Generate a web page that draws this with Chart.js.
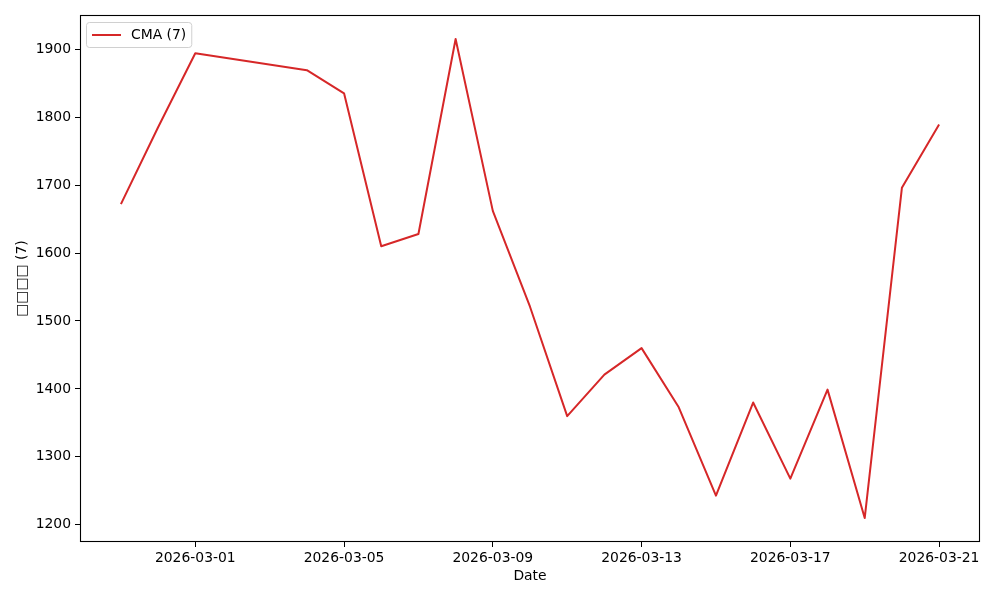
<!DOCTYPE html>
<html>
<head>
<meta charset="utf-8">
<script src="https://cdn.jsdelivr.net/npm/chart.js@4"></script>
<style>
html,body{margin:0;padding:0;background:#fff;}
#wrap{width:1000px;height:600px;}
</style>
</head>
<body>
<div id="wrap"><canvas id="c" width="1000" height="600"></canvas></div>
<script>
const dates = ["2026-02-27","2026-02-28","2026-03-01","2026-03-04","2026-03-05","2026-03-06","2026-03-07","2026-03-08","2026-03-09","2026-03-10","2026-03-11","2026-03-12","2026-03-13","2026-03-14","2026-03-15","2026-03-16","2026-03-17","2026-03-18","2026-03-19","2026-03-20","2026-03-21"];
const cmaValues = [1672,1785,1894,1869,1835,1610,1628,1915,1662,1521,1360,1421,1460,1373,1243,1380,1268,1399,1210,1696,1789];
const xTickLabels = ["2026-03-01","2026-03-05","2026-03-09","2026-03-13","2026-03-17","2026-03-21"];
const yTickValues = [1200,1300,1400,1500,1600,1700,1800,1900];
const seriesLabel = "CMA (7)";
const xTitle = "Date";
const yTitle = "□□□□ (7)";

const DAY = 86400000;
function dayNum(s){ const p = s.split('-').map(Number); return Date.UTC(p[0],p[1]-1,p[2]) / DAY; }
function dayStr(n){ const d = new Date(Math.round(n)*DAY); return d.toISOString().slice(0,10); }

const pts = dates.map((d,i)=>({x:dayNum(d), y:cmaValues[i]}));
const xs = pts.map(p=>p.x), ys = cmaValues;
const xMinD = Math.min(...xs), xMaxD = Math.max(...xs);
const yMinD = Math.min(...ys), yMaxD = Math.max(...ys);
const xm = (xMaxD-xMinD)*0.05, ym = (yMaxD-yMinD)*0.05;

const FONT = "'DejaVu Sans', sans-serif";
const FS = 13.9;

const framePlugin = {
  id:'frame',
  afterDraw(chart){
    const ctx = chart.ctx, a = chart.chartArea;
    ctx.save();
    ctx.strokeStyle = '#000';
    ctx.lineWidth = 1.1;
    ctx.strokeRect(Math.round(a.left)+0.5, Math.round(a.top)+0.5, Math.round(a.right-a.left)-1, Math.round(a.bottom-a.top)-1);
    // legend
    const ds = chart.data.datasets[0];
    const bx = Math.round(a.left)+6.5, by = Math.round(a.top)+7.5;
    ctx.font = FS + 'px ' + FONT;
    const tw = ctx.measureText(ds.label).width;
    const bw = 44 + tw + 6, bh = 25;
    ctx.beginPath();
    if (ctx.roundRect) ctx.roundRect(bx, by, bw, bh, 3); else ctx.rect(bx,by,bw,bh);
    ctx.fillStyle = 'rgba(255,255,255,0.8)';
    ctx.fill();
    ctx.strokeStyle = '#d0d0d0';
    ctx.lineWidth = 1;
    ctx.stroke();
    ctx.beginPath();
    ctx.moveTo(bx+5.5, by+12.5);
    ctx.lineTo(bx+34.5, by+12.5);
    ctx.strokeStyle = ds.borderColor;
    ctx.lineWidth = 2;
    ctx.stroke();
    ctx.fillStyle = '#000';
    ctx.textBaseline = 'middle';
    ctx.textAlign = 'left';
    ctx.fillText(ds.label, bx+44.5, by+12.5);
    ctx.restore();
  }
};

new Chart(document.getElementById('c'), {
  type:'line',
  data:{ datasets:[{ label:seriesLabel, data:pts, borderColor:'#d62728', borderWidth:2, borderJoinStyle:'round', borderCapStyle:'butt', pointRadius:0, tension:0, fill:false }]},
  options:{
    responsive:false,
    animation:false,
    layout:{ padding:{ left:10, top:15, right:20, bottom:11 } },
    plugins:{ legend:{display:false}, tooltip:{enabled:false} },
    scales:{
      x:{
        type:'linear',
        min:xMinD-xm, max:xMaxD+xm,
        afterBuildTicks(s){ s.ticks = xTickLabels.map(l=>({value:dayNum(l)})); },
        afterFit(s){ s.height = 47; },
        ticks:{ color:'#000', font:{family:FONT,size:FS}, padding:3, maxRotation:0, autoSkip:false, callback:(v)=>dayStr(v) },
        grid:{ drawOnChartArea:false, drawTicks:true, tickLength:5, color:'#000', lineWidth:1 },
        border:{ display:false },
        title:{ display:true, text:xTitle, color:'#000', font:{family:FONT,size:FS}, padding:{top:4,bottom:4} }
      },
      y:{
        type:'linear',
        min:yMinD-ym, max:yMaxD+ym,
        afterBuildTicks(s){ s.ticks = yTickValues.map(v=>({value:v})); },
        afterFit(s){ s.width = 70; },
        ticks:{ color:'#000', font:{family:FONT,size:FS}, padding:4, autoSkip:false, callback:(v)=>String(v) },
        grid:{ drawOnChartArea:false, drawTicks:true, tickLength:5, color:'#000', lineWidth:1 },
        border:{ display:false },
        title:{ display:true, text:yTitle, color:'#000', font:{family:FONT,size:FS}, padding:{top:4,bottom:4} }
      }
    }
  },
  plugins:[framePlugin]
});
</script>
</body>
</html>
